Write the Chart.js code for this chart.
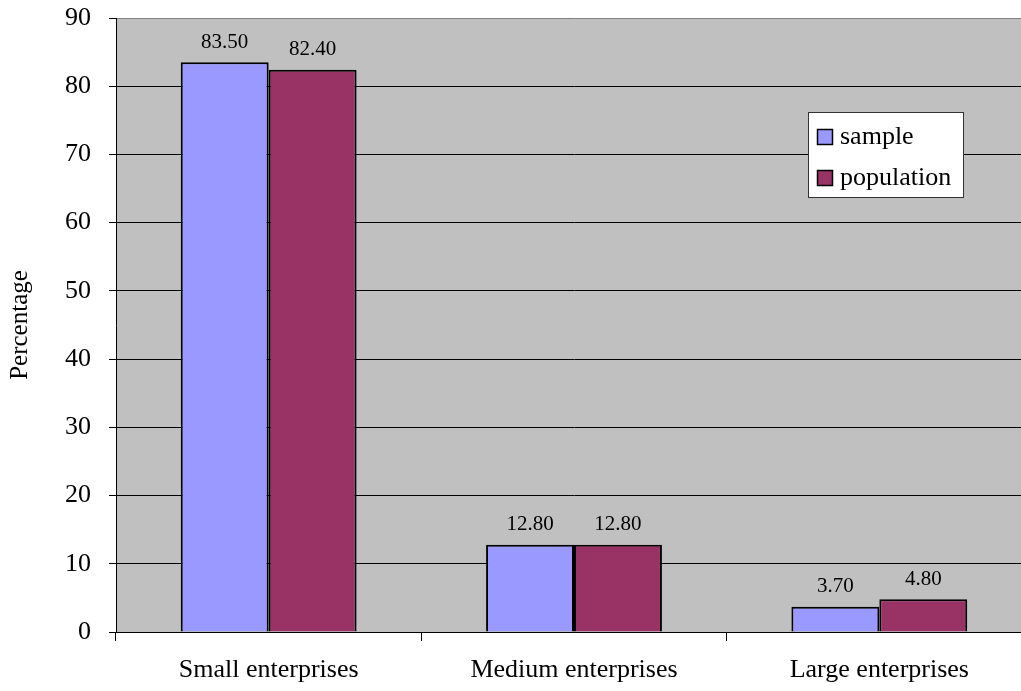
<!DOCTYPE html>
<html>
<head>
<meta charset="utf-8">
<script src="https://cdn.jsdelivr.net/npm/chart.js@4.4.0/dist/chart.umd.min.js"></script>
<style>
  html, body { margin: 0; padding: 0; background: #fff; overflow: hidden; }
  #wrap { width: 1040px; height: 691px; }
</style>
</head>
<body>
<div id="wrap"><canvas id="myChart" width="1040" height="691"></canvas></div>
<script>
const categories = ['Small enterprises', 'Medium enterprises', 'Large enterprises'];
const sampleValues = [83.5, 12.8, 3.7];
const populationValues = [82.4, 12.8, 4.8];
const yTicks = [0, 10, 20, 30, 40, 50, 60, 70, 80, 90];

const serif = "'Liberation Serif', 'Times New Roman', serif";

// gray plot background
const plotBg = {
  id: 'plotBg',
  beforeDraw(chart) {
    const { ctx, chartArea: a } = chart;
    ctx.save();
    ctx.fillStyle = '#c0c0c0';
    ctx.fillRect(a.left, a.top, a.right - a.left, a.bottom - a.top);
    ctx.restore();
  }
};

// value labels over each bar
const valueLabels = {
  id: 'valueLabels',
  afterDatasetsDraw(chart) {
    const { ctx } = chart;
    ctx.save();
    ctx.font = '21px ' + serif;
    ctx.fillStyle = '#000';
    ctx.textAlign = 'center';
    ctx.textBaseline = 'middle';
    chart.data.datasets.forEach((ds, i) => {
      chart.getDatasetMeta(i).data.forEach((bar, j) => {
        ctx.fillText(ds.data[j].toFixed(2), bar.x, bar.y - 20);
      });
    });
    ctx.restore();
  }
};

// boxed legend inside the plot
const boxLegend = {
  id: 'boxLegend',
  afterDraw(chart) {
    const { ctx } = chart;
    const x = 808, y = 112, w = 155, h = 85;
    ctx.save();
    ctx.fillStyle = '#fff';
    ctx.fillRect(x, y, w, h);
    ctx.strokeStyle = '#333';
    ctx.lineWidth = 1;
    ctx.strokeRect(x + 0.5, y + 0.5, w, h);
    ctx.font = '26px ' + serif;
    ctx.textBaseline = 'middle';
    chart.data.datasets.forEach((ds, i) => {
      const cy = y + 25 + i * 41;
      ctx.fillStyle = ds.backgroundColor;
      ctx.fillRect(x + 9, cy - 8, 16, 16);
      ctx.strokeStyle = '#000';
      ctx.lineWidth = 1.5;
      ctx.strokeRect(x + 9.5, cy - 7.5, 15, 15);
      ctx.fillStyle = '#000';
      ctx.fillText(ds.label, x + 32, cy);
    });
    ctx.restore();
  }
};

new Chart(document.getElementById('myChart'), {
  type: 'bar',
  data: {
    labels: categories,
    datasets: [
      {
        label: 'sample',
        data: sampleValues,
        backgroundColor: '#9999ff',
        borderColor: '#000',
        borderWidth: 2,
        borderSkipped: 'bottom'
      },
      {
        label: 'population',
        data: populationValues,
        backgroundColor: '#993366',
        borderColor: '#000',
        borderWidth: 2,
        borderSkipped: 'bottom'
      }
    ]
  },
  options: {
    responsive: false,
    animation: false,
    events: [],
    categoryPercentage: 0.576,
    barPercentage: 1,
    layout: { padding: { left: 0, top: 18, right: 8, bottom: 0 } },
    plugins: {
      legend: { display: false },
      tooltip: { enabled: false }
    },
    scales: {
      x: {
        afterFit(scale) {
          scale.height = 59;
          scale.paddingLeft = 0;
          scale.paddingRight = 0;
        },
        grid: {
          offset: true,
          drawOnChartArea: false,
          drawTicks: true,
          tickLength: 9,
          color: '#000'
        },
        border: { color: '#000', width: 1 },
        ticks: {
          color: '#000',
          padding: 14,
          maxRotation: 0,
          font: { family: serif, size: 26 }
        }
      },
      y: {
        min: 0,
        max: 90,
        afterFit(scale) {
          scale.width = 116;
          scale.paddingTop = 0;
          scale.paddingBottom = 0;
        },
        afterBuildTicks(scale) { scale.ticks = yTicks.map(v => ({ value: v })); },
        grid: {
          color: ctx => (ctx.tick && ctx.tick.value === 90 ? '#808080' : '#000'),
          lineWidth: 1,
          tickLength: 7,
          tickColor: '#000'
        },
        border: { color: '#000', width: 1 },
        ticks: {
          color: '#000',
          padding: 18,
          font: { family: serif, size: 26 }
        },
        title: {
          display: true,
          text: 'Percentage',
          color: '#000',
          padding: { top: 5, bottom: 0 },
          font: { family: serif, size: 25 }
        }
      }
    }
  },
  plugins: [plotBg, valueLabels, boxLegend]
});
</script>
</body>
</html>
